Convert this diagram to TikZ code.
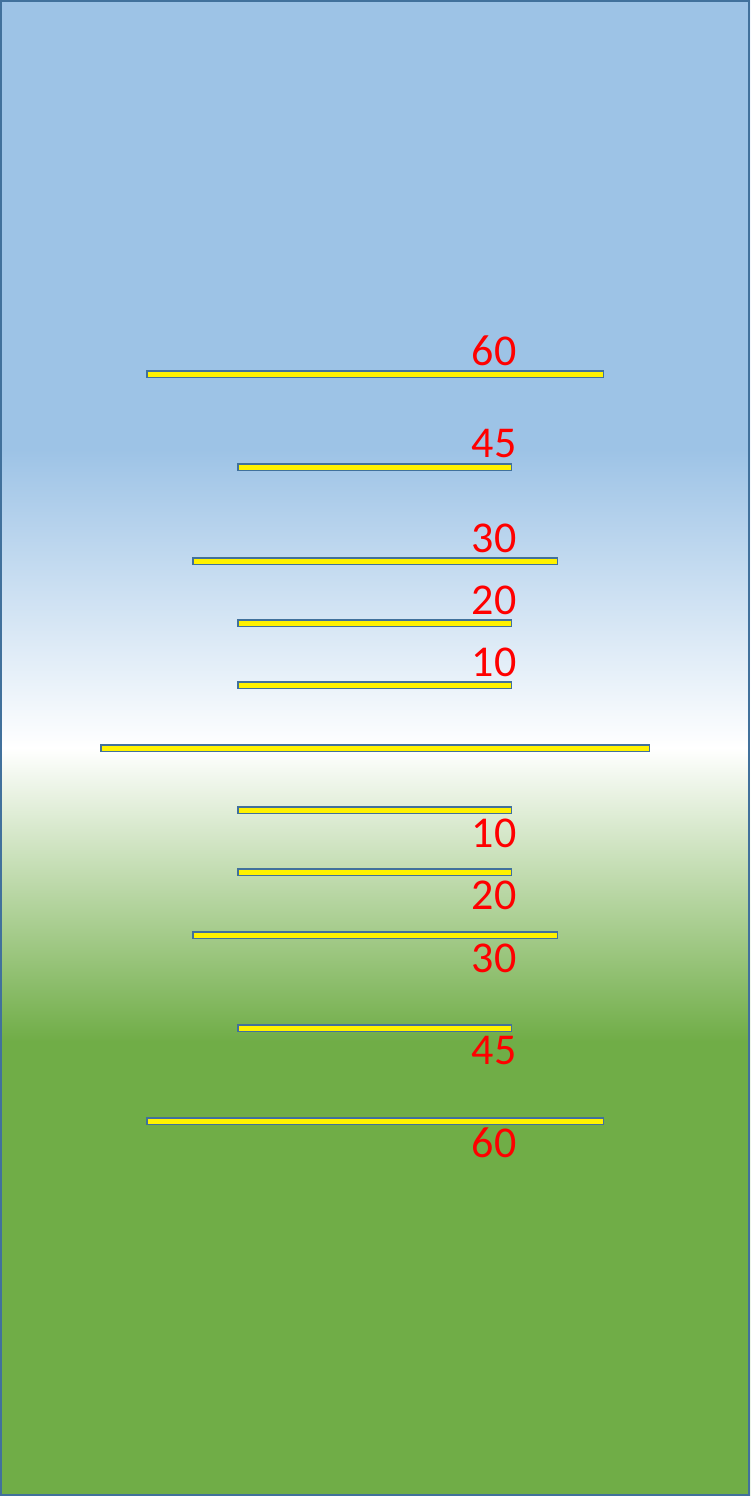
\documentclass[tikz,border=0pt]{standalone}
\usepackage{fontspec}
\setmainfont{Carlito}
\usepackage{tikz}

\definecolor{skyblue}{HTML}{9DC3E6}
\definecolor{grass}{HTML}{70AD47}
\definecolor{frame}{HTML}{41719C}
\pgfdeclareverticalshading{skyground}{100bp}{color(0bp)=(grass); color(40.2bp)=(grass); color(50bp)=(white); color(60bp)=(skyblue); color(100bp)=(skyblue)}

\begin{document}
\begin{tikzpicture}[x=1pt,y=1pt,
  bar/.style={draw=frame,line width=1.5pt,fill=yellow,inner sep=0pt,minimum height=6.5pt},
  deg/.style={text=red,inner sep=0pt,font=\fontsize{44}{44}\selectfont}]
\useasboundingbox (0,0) rectangle (750,1496);
\shade[shading=skyground] (0,0) rectangle (750,1496);
\draw[frame,line width=2pt] (1,1) rectangle (749,1495);
% upper bars
\node[bar,minimum width=456.5pt] (b60a) at (375,1121.5) {};
\node[bar,minimum width=273.5pt] (b45a) at (374.5,1028.5) {};
\node[bar,minimum width=364.5pt] (b30a) at (375,934.5) {};
\node[bar,minimum width=273.5pt] (b20a) at (374.5,872.5) {};
\node[bar,minimum width=273.5pt] (b10a) at (374.5,810.5) {};
% horizon
\node[bar,minimum width=548.5pt] (b0) at (375,747.5) {};
% lower bars
\node[bar,minimum width=273.5pt] (b10b) at (374.5,685.5) {};
\node[bar,minimum width=273.5pt] (b20b) at (374.5,623.5) {};
\node[bar,minimum width=364.5pt] (b30b) at (375,560.5) {};
\node[bar,minimum width=273.5pt] (b45b) at (374.5,467.5) {};
\node[bar,minimum width=456.5pt] (b60b) at (375,374.5) {};
% labels
\node[deg] (l60a) at (494,1145) {60};
\node[deg] (l45a) at (494,1052) {45};
\node[deg] (l30a) at (494,958) {30};
\node[deg] (l20a) at (494,896) {20};
\node[deg] (l10a) at (494,834) {10};
\node[deg] (l10b) at (494,663) {10};
\node[deg] (l20b) at (494,601) {20};
\node[deg] (l30b) at (494,538) {30};
\node[deg] (l45b) at (494,445) {45};
\node[deg] (l60b) at (494,353) {60};
\end{tikzpicture}
\end{document}
